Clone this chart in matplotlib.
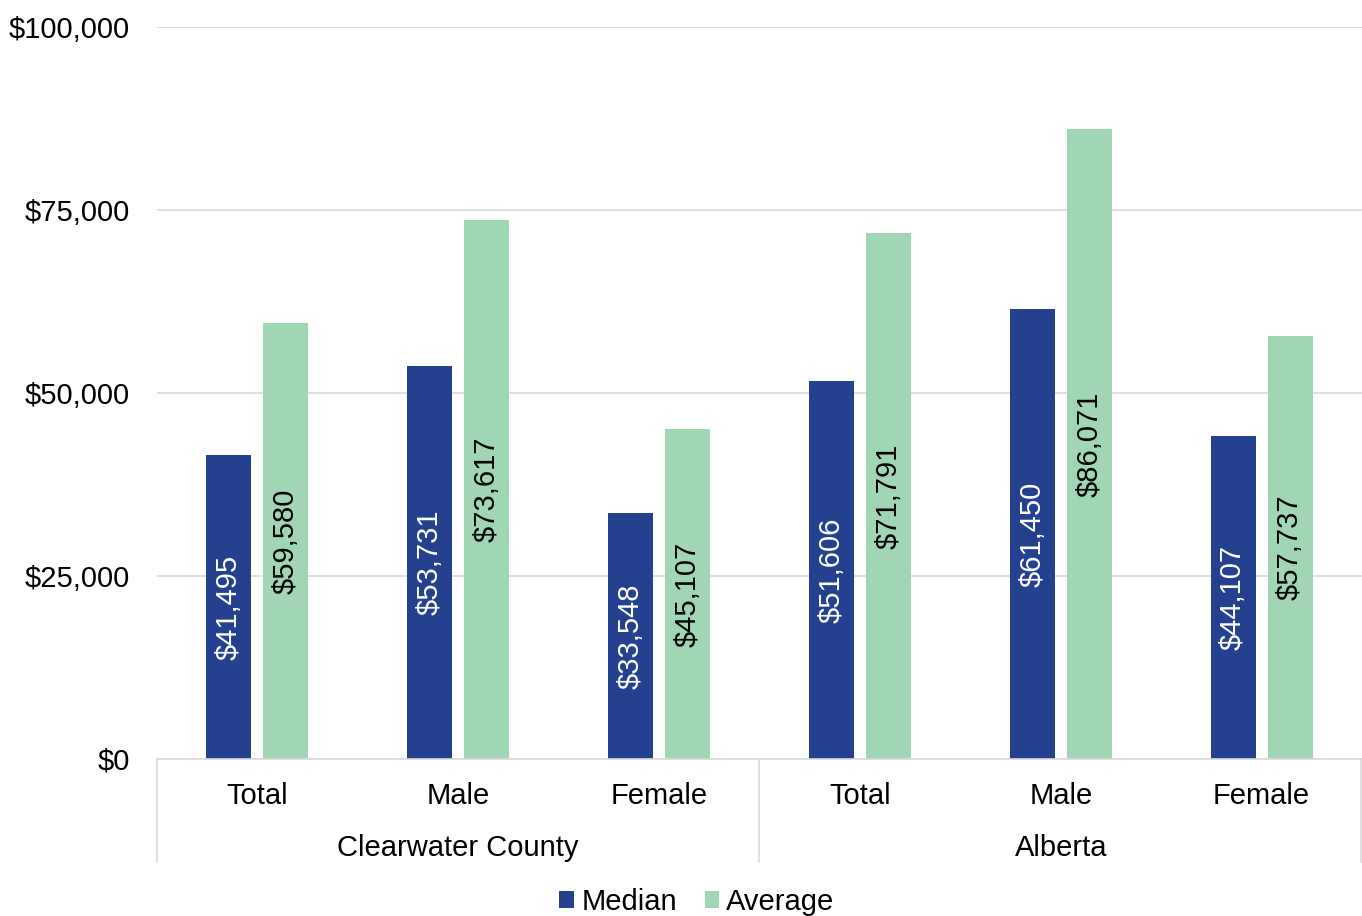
import matplotlib
matplotlib.use('Agg')
from matplotlib import pyplot as plt
from matplotlib.ticker import FuncFormatter
import numpy as np

plt.rcParams['font.family'] = ['Liberation Sans', 'DejaVu Sans']

categories = ['Total', 'Male', 'Female', 'Total', 'Male', 'Female']
groups = ['Clearwater County', 'Alberta']
median = [41495, 53731, 33548, 51606, 61450, 44107]
average = [59580, 73617, 45107, 71791, 86071, 57737]

BLUE = '#23418F'
GREEN = '#A0D6B4'
GRID = '#D9D9D9'
FS = 21

fig = plt.figure(figsize=(13.62, 9.16), dpi=100)
ax = fig.add_axes([157 / 1362, 157 / 916, 1 - 157 / 1362, (759 - 27) / 916])

x = np.arange(len(categories))
w = 0.224
off = 0.142
b1 = ax.bar(x - off, median, w, color=BLUE, label='Median', zorder=2)
b2 = ax.bar(x + off, average, w, color=GREEN, label='Average', zorder=2)

for bars, vals, col in [(b1, median, 'white'), (b2, average, 'black')]:
    for r, v in zip(bars, vals):
        ax.text(r.get_x() + r.get_width() / 2, v / 2, '${:,}'.format(v),
                rotation=90, ha='center', va='center', color=col,
                fontsize=FS, zorder=3)

ax.set_xlim(-0.5, len(categories) - 0.5)
ax.set_ylim(0, 100000)
ax.set_yticks([0, 25000, 50000, 75000, 100000])
ax.yaxis.set_major_formatter(FuncFormatter(lambda v, p: '${:,.0f}'.format(v)))
ax.tick_params(axis='y', length=0, labelsize=FS, pad=19.5)
ax.set_xticks([])
ax.grid(axis='y', color=GRID, linewidth=1.2, zorder=0)
for s in ['top', 'right', 'left']:
    ax.spines[s].set_visible(False)
ax.spines['bottom'].set_color(GRID)
ax.spines['bottom'].set_linewidth(1.2)

trans = ax.get_xaxis_transform()
for i, c in enumerate(categories):
    ax.text(i, -0.051, c, transform=trans, ha='center', va='center',
            fontsize=FS, clip_on=False)
for g, name in enumerate(groups):
    ax.text(g * 3 + 1, -0.122, name, transform=trans, ha='center',
            va='center', fontsize=FS, clip_on=False)
for xs in [-0.5, 2.5, 5.495]:
    ax.plot([xs, xs], [0, -0.141], transform=trans, color=GRID,
            linewidth=1.2, clip_on=False)

fig.legend(handles=[b1, b2], labels=['Median', 'Average'], loc='center',
           bbox_to_anchor=(697 / 1362, 1 - 902 / 916), ncol=2, frameon=False,
           fontsize=FS, handlelength=0.5, handleheight=0.5,
           handletextpad=0.25, columnspacing=0.95)

fig.savefig('out.png', dpi=100)
